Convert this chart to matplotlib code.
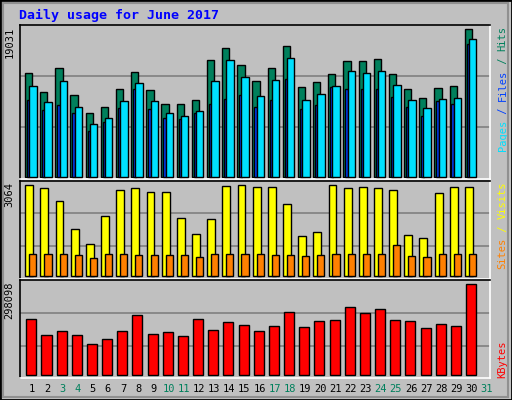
import matplotlib
matplotlib.use("Agg")
import matplotlib.pyplot as plt
from matplotlib.transforms import offset_copy

days = list(range(1, 32))
weekend = [3, 4, 10, 11, 17, 18, 24, 25, 31]
hits = [13051,10651,13683,10272,7999,8757,11030,13177,10904,9136,9136,9641,14693,16209,14061,
        12041,13683,16461,11283,11914,12925,14567,14567,14819,12925,11030,9894,11157,11409,18608]
files = [11409,9388,12041,8757,6610,7368,9515,11788,9515,7999,7620,8252,12041,14693,12546,
         10146,12167,14946,9641,10399,11409,13304,13051,13304,11535,9641,8631,9767,9894,17345]
pages = [9641,8378,9009,7999,5726,6862,8631,11030,8504,7368,7241,7999,9136,9767,10272,
         8757,9641,12293,8504,9009,11283,11030,11030,11030,10020,8757,7620,9515,9136,16714]
visits = [3064,2964,2531,1565,1066,1998,2897,2964,2831,2831,1931,1399,1898,3030,3064,
          2997,2997,2431,1332,1465,3064,2964,2997,2964,2897,1365,1265,2797,2997,2997]
sites = [733,733,733,699,599,733,733,699,699,699,699,633,733,733,733,
         733,699,699,666,699,733,733,733,733,1032,666,633,733,733,733]
kbytes = [183456,131040,144144,131040,101556,117936,144144,196560,134316,140868,127764,183456,
          147420,173628,163800,144144,160524,206388,157248,176904,180180,222768,203112,216216,
          180180,176904,153972,167076,160524,298098]
max_hits = 19031
max_visits = 3064
max_kb = 298098

BG = "#C0C0C0"
fig = plt.figure(figsize=(5.12, 4.0), dpi=100, facecolor=BG)
fig.patches.append(plt.Rectangle((0, 0), 1, 1, transform=fig.transFigure, fill=False,
                                 edgecolor="black", lw=2))
fig.patches.append(plt.Rectangle((0.006, 0.008), 0.986, 0.985, transform=fig.transFigure,
                                 fill=False, edgecolor="#909090", lw=1.5))

L, W = 0.039, 0.918
ax1 = fig.add_axes([L, 0.552, W, 0.386])
ax2 = fig.add_axes([L, 0.302, W, 0.2465])
ax3 = fig.add_axes([L, 0.054, W, 0.245])

x = list(range(1, 31))
ek = dict(edgecolor="black", linewidth=1)
ax1.bar([i - 0.17 for i in x], hits, width=0.48, align="edge", color="#00805C", **ek, zorder=2)
ax1.bar([i - 0.04 for i in x], pages, width=0.16, align="edge", color="#0040FF", **ek, zorder=3)
ax1.bar([i + 0.11 for i in x], files, width=0.49, align="edge", color="#00E0FF", **ek, zorder=4)
ax1.set_ylim(-337, 19155)
for g in (6231, 12714):
    ax1.axhline(g, color="#808080", lw=1.2, zorder=1)

ax2.bar([i - 0.15 for i in x], visits, width=0.52, align="edge", color="#FFFF00", **ek, zorder=2)
ax2.bar([i + 0.11 for i in x], sites, width=0.47, align="edge", color="#FF8000", **ek, zorder=3)
ax2.set_ylim(-100, 3197)
for g in (999, 2098):
    ax2.axhline(g, color="#808080", lw=1.2, zorder=1)

ax3.bar([i - 0.08 for i in x], kbytes, width=0.66, align="edge", color="#FF0000", **ek, zorder=2)
ax3.set_ylim(-9800, 311000)
for g in (95000, 203000):
    ax3.axhline(g, color="#808080", lw=1.2, zorder=1)

for ax in (ax1, ax2, ax3):
    ax.set_facecolor(BG)
    ax.set_xlim(0.5, 31.5)
    ax.set_xticks([])
    ax.set_yticks([])
    ax.spines["top"].set_color("black")
    ax.spines["left"].set_color("black")
    ax.spines["right"].set_color("white")
    ax.spines["bottom"].set_color("white")
    for s in ax.spines.values():
        s.set_linewidth(1.2)

mono = "DejaVu Sans Mono"
for d in days:
    ax3.text(d + 0.3, -0.06, str(d), transform=ax3.get_xaxis_transform(), ha="center", va="top",
             fontsize=7.5, family=mono, color="#00805C" if d in weekend else "black")

fig.text(19 / 512, 1 - 15 / 400, "Daily usage for June 2017", color="#0000FF", fontsize=9.5,
         family=mono, fontweight="bold", va="center", ha="left")

for ax, lab in ((ax1, str(max_hits)), (ax2, str(max_visits)), (ax3, str(max_kb))):
    ax.text(-0.012, 0.99, lab, transform=ax.transAxes, rotation=90, ha="right", va="top",
            fontsize=7.5, family=mono, color="black")

def vlabel_top(ax, parts, fs=7.5, top=0.99):
    total = sum(len(t) for t, _ in parts)
    cw = 0.6 * fs
    n = 0
    for t, c in parts:
        tr = offset_copy(ax.transAxes, fig=fig, x=0, y=-(total - n - len(t)) * cw, units="points")
        ax.text(1.016, top, t, transform=tr, rotation=90, ha="left", va="top",
                fontsize=fs, family=mono, color=c)
        n += len(t)

vlabel_top(ax1, [("Pages", "#00E0FF"), (" / ", "#0040FF"), ("Files", "#0040FF"),
                 (" / ", "#00805C"), ("Hits", "#00805C")])
vlabel_top(ax2, [("Sites", "#FF8000"), (" / ", "#FFFF00"), ("Visits", "#FFFF00")])
ax3.text(1.016, 0.0, "KBytes", transform=ax3.transAxes, rotation=90, ha="left", va="bottom",
         fontsize=7.5, family=mono, color="#FF0000")

fig.savefig("out.png", dpi=100, facecolor=BG)
